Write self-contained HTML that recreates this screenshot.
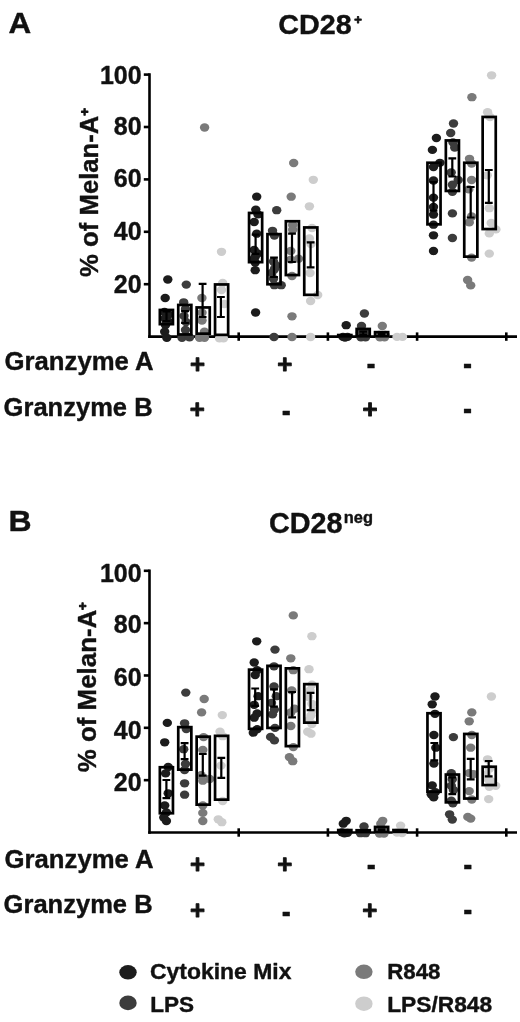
<!DOCTYPE html>
<html lang="en"><head><meta charset="utf-8"><title>Figure</title>
<style>html,body{margin:0;padding:0;background:#fff}body{width:520px;height:1022px;overflow:hidden}svg{display:block}text{stroke:#111;stroke-width:.4px;stroke-linejoin:round}.sp{stroke-width:.9px}</style>
</head><body>
<svg width="520" height="1022" viewBox="0 0 520 1022" font-family="'Liberation Sans', sans-serif" font-weight="bold" fill="#111">
<rect width="520" height="1022" fill="#fff"/>
<text x="8.4" y="33.1" font-size="30.4" text-anchor="start" textLength="22.7" lengthAdjust="spacingAndGlyphs">A</text>
<text x="8.5" y="531.2" font-size="30.4" text-anchor="start" textLength="23.1" lengthAdjust="spacingAndGlyphs">B</text>
<text x="278.3" y="34.2" font-size="28.3" text-anchor="start" textLength="73.4" lengthAdjust="spacingAndGlyphs">CD28</text>
<text x="354.2" y="23.9" font-size="13" text-anchor="start" class="sp">+</text>
<text x="269" y="533.1" font-size="28.6" text-anchor="start" textLength="73.6" lengthAdjust="spacingAndGlyphs">CD28</text>
<text x="343.8" y="523.3" font-size="16.5" text-anchor="start" textLength="29.2" lengthAdjust="spacingAndGlyphs">neg</text>
<g stroke="#000" stroke-width="2.6" fill="none" stroke-linecap="butt">
<path d="M149.5 73.3V337.9"/>
<path d="M148.2 336.6H517"/>
<path d="M143.8 284.2H149.5"/>
<path d="M143.8 231.8H149.5"/>
<path d="M143.8 179.4H149.5"/>
<path d="M143.8 127H149.5"/>
<path d="M143.8 74.6H149.5"/>
<path d="M238.7 332.4V340.8"/>
<path d="M327.9 332.4V340.8"/>
<path d="M417.1 332.4V340.8"/>
<path d="M506.3 332.4V340.8"/>
</g>
<g fill="#1c1c1c">
<ellipse cx="167.8" cy="279.5" rx="4.7" ry="4.15"/>
<ellipse cx="165.2" cy="298" rx="4.7" ry="4.15"/>
<ellipse cx="164.5" cy="312" rx="4.7" ry="4.15"/>
<ellipse cx="168.5" cy="314.5" rx="4.7" ry="4.15"/>
<ellipse cx="165" cy="318.5" rx="4.7" ry="4.15"/>
<ellipse cx="168" cy="321.5" rx="4.7" ry="4.15"/>
<ellipse cx="165.5" cy="325" rx="4.7" ry="4.15"/>
<ellipse cx="164.7" cy="331.7" rx="4.7" ry="4.15"/>
<ellipse cx="166.8" cy="337.8" rx="4.7" ry="4.15"/>
</g>
<g fill="#3c3c3c">
<ellipse cx="186.3" cy="284.6" rx="4.7" ry="4.15"/>
<ellipse cx="183.7" cy="302.3" rx="4.7" ry="4.15"/>
<ellipse cx="185.5" cy="309" rx="4.7" ry="4.15"/>
<ellipse cx="184" cy="316" rx="4.7" ry="4.15"/>
<ellipse cx="186" cy="322" rx="4.7" ry="4.15"/>
<ellipse cx="185.5" cy="330" rx="4.7" ry="4.15"/>
<ellipse cx="182" cy="337.8" rx="4.7" ry="4.15"/>
<ellipse cx="189.5" cy="337.4" rx="4.7" ry="4.15"/>
</g>
<g fill="#7a7a7a">
<ellipse cx="204.6" cy="127.5" rx="4.7" ry="4.15"/>
<ellipse cx="201.9" cy="298" rx="4.7" ry="4.15"/>
<ellipse cx="202" cy="312.7" rx="4.7" ry="4.15"/>
<ellipse cx="202" cy="320.5" rx="4.7" ry="4.15"/>
<ellipse cx="204.5" cy="331.7" rx="4.7" ry="4.15"/>
<ellipse cx="199.5" cy="337.8" rx="4.7" ry="4.15"/>
<ellipse cx="204.5" cy="337.8" rx="4.7" ry="4.15"/>
</g>
<g fill="#cdcdcd">
<ellipse cx="221.5" cy="251.8" rx="4.7" ry="4.15"/>
<ellipse cx="222.7" cy="283" rx="4.7" ry="4.15"/>
<ellipse cx="221.5" cy="290" rx="4.7" ry="4.15"/>
<ellipse cx="224.4" cy="304" rx="4.7" ry="4.15"/>
<ellipse cx="219.5" cy="338.4" rx="4.7" ry="4.15"/>
<ellipse cx="223.5" cy="338.4" rx="4.7" ry="4.15"/>
</g>
<g fill="#1c1c1c">
<ellipse cx="256.7" cy="196.7" rx="4.7" ry="4.15"/>
<ellipse cx="255.8" cy="209.6" rx="4.7" ry="4.15"/>
<ellipse cx="258" cy="214.4" rx="4.7" ry="4.15"/>
<ellipse cx="254.2" cy="222" rx="4.7" ry="4.15"/>
<ellipse cx="256.7" cy="233.7" rx="4.7" ry="4.15"/>
<ellipse cx="254.2" cy="250" rx="4.7" ry="4.15"/>
<ellipse cx="255.2" cy="256.7" rx="4.7" ry="4.15"/>
<ellipse cx="257.5" cy="253.5" rx="4.7" ry="4.15"/>
<ellipse cx="253.5" cy="259.5" rx="4.7" ry="4.15"/>
<ellipse cx="255.2" cy="262.5" rx="4.7" ry="4.15"/>
<ellipse cx="255.2" cy="270.2" rx="4.7" ry="4.15"/>
<ellipse cx="255.6" cy="312.5" rx="4.7" ry="4.15"/>
</g>
<g fill="#3c3c3c">
<ellipse cx="276.7" cy="210.2" rx="4.7" ry="4.15"/>
<ellipse cx="272.5" cy="230.8" rx="4.7" ry="4.15"/>
<ellipse cx="274.4" cy="235.6" rx="4.7" ry="4.15"/>
<ellipse cx="273.5" cy="261.5" rx="4.7" ry="4.15"/>
<ellipse cx="276" cy="265.5" rx="4.7" ry="4.15"/>
<ellipse cx="274.4" cy="269.2" rx="4.7" ry="4.15"/>
<ellipse cx="271.8" cy="273" rx="4.7" ry="4.15"/>
<ellipse cx="273.5" cy="278.8" rx="4.7" ry="4.15"/>
<ellipse cx="274.4" cy="285.2" rx="4.7" ry="4.15"/>
<ellipse cx="281.2" cy="285.2" rx="4.7" ry="4.15"/>
<ellipse cx="274" cy="337" rx="4.7" ry="4.15"/>
</g>
<g fill="#7a7a7a">
<ellipse cx="293.7" cy="163" rx="4.7" ry="4.15"/>
<ellipse cx="291.2" cy="196.7" rx="4.7" ry="4.15"/>
<ellipse cx="292.7" cy="225" rx="4.7" ry="4.15"/>
<ellipse cx="292.7" cy="229.8" rx="4.7" ry="4.15"/>
<ellipse cx="290.8" cy="251" rx="4.7" ry="4.15"/>
<ellipse cx="298.5" cy="258.7" rx="4.7" ry="4.15"/>
<ellipse cx="290.8" cy="259.6" rx="4.7" ry="4.15"/>
<ellipse cx="292" cy="276" rx="4.7" ry="4.15"/>
<ellipse cx="292" cy="316.3" rx="4.7" ry="4.15"/>
<ellipse cx="292" cy="337" rx="4.7" ry="4.15"/>
</g>
<g fill="#cdcdcd">
<ellipse cx="313.3" cy="179.8" rx="4.7" ry="4.15"/>
<ellipse cx="309.4" cy="206.3" rx="4.7" ry="4.15"/>
<ellipse cx="312" cy="228" rx="4.7" ry="4.15"/>
<ellipse cx="309.4" cy="238.5" rx="4.7" ry="4.15"/>
<ellipse cx="311" cy="244" rx="4.7" ry="4.15"/>
<ellipse cx="310" cy="273" rx="4.7" ry="4.15"/>
<ellipse cx="317.7" cy="295" rx="4.7" ry="4.15"/>
<ellipse cx="310.6" cy="301" rx="4.7" ry="4.15"/>
<ellipse cx="310.6" cy="337" rx="4.7" ry="4.15"/>
</g>
<g fill="#1c1c1c">
<ellipse cx="346.2" cy="325.2" rx="4.7" ry="4.15"/>
<ellipse cx="343" cy="336.9" rx="4.7" ry="4.15"/>
<ellipse cx="347.5" cy="336.9" rx="4.7" ry="4.15"/>
<ellipse cx="345" cy="337.5" rx="4.7" ry="4.15"/>
</g>
<g fill="#3c3c3c">
<ellipse cx="364.4" cy="313.5" rx="4.7" ry="4.15"/>
<ellipse cx="361.5" cy="326" rx="4.7" ry="4.15"/>
<ellipse cx="361" cy="337.4" rx="4.7" ry="4.15"/>
<ellipse cx="365.5" cy="337.4" rx="4.7" ry="4.15"/>
<ellipse cx="360.5" cy="332.5" rx="4.7" ry="4.15"/>
<ellipse cx="366" cy="332.5" rx="4.7" ry="4.15"/>
<ellipse cx="363" cy="335" rx="4.7" ry="4.15"/>
</g>
<g fill="#7a7a7a">
<ellipse cx="382.3" cy="326" rx="4.7" ry="4.15"/>
<ellipse cx="380" cy="337.4" rx="4.7" ry="4.15"/>
<ellipse cx="384.5" cy="337.4" rx="4.7" ry="4.15"/>
<ellipse cx="379" cy="335" rx="4.7" ry="4.15"/>
<ellipse cx="385" cy="335" rx="4.7" ry="4.15"/>
<ellipse cx="382" cy="336" rx="4.7" ry="4.15"/>
</g>
<g fill="#cdcdcd">
<ellipse cx="397" cy="336.9" rx="4.7" ry="4.15"/>
<ellipse cx="402.5" cy="336.9" rx="4.7" ry="4.15"/>
</g>
<g fill="#1c1c1c">
<ellipse cx="436.4" cy="138" rx="4.7" ry="4.15"/>
<ellipse cx="432.4" cy="149.9" rx="4.7" ry="4.15"/>
<ellipse cx="439.9" cy="162.8" rx="4.7" ry="4.15"/>
<ellipse cx="433.5" cy="167" rx="4.7" ry="4.15"/>
<ellipse cx="433.5" cy="180.5" rx="4.7" ry="4.15"/>
<ellipse cx="433.5" cy="197.6" rx="4.7" ry="4.15"/>
<ellipse cx="433.5" cy="207" rx="4.7" ry="4.15"/>
<ellipse cx="433.5" cy="214.6" rx="4.7" ry="4.15"/>
<ellipse cx="433.5" cy="224.7" rx="4.7" ry="4.15"/>
<ellipse cx="433.5" cy="235.3" rx="4.7" ry="4.15"/>
<ellipse cx="433.5" cy="251" rx="4.7" ry="4.15"/>
</g>
<g fill="#3c3c3c">
<ellipse cx="453.5" cy="123.5" rx="4.7" ry="4.15"/>
<ellipse cx="450.7" cy="133" rx="4.7" ry="4.15"/>
<ellipse cx="453" cy="142.4" rx="4.7" ry="4.15"/>
<ellipse cx="454.7" cy="147.5" rx="4.7" ry="4.15"/>
<ellipse cx="451.2" cy="172.5" rx="4.7" ry="4.15"/>
<ellipse cx="458.2" cy="180" rx="4.7" ry="4.15"/>
<ellipse cx="452.4" cy="184.7" rx="4.7" ry="4.15"/>
<ellipse cx="452.4" cy="191.8" rx="4.7" ry="4.15"/>
<ellipse cx="452.4" cy="213.4" rx="4.7" ry="4.15"/>
<ellipse cx="452.4" cy="238" rx="4.7" ry="4.15"/>
</g>
<g fill="#7a7a7a">
<ellipse cx="471.9" cy="97.2" rx="4.7" ry="4.15"/>
<ellipse cx="469.5" cy="158.8" rx="4.7" ry="4.15"/>
<ellipse cx="471.6" cy="163.5" rx="4.7" ry="4.15"/>
<ellipse cx="471.6" cy="180" rx="4.7" ry="4.15"/>
<ellipse cx="468.8" cy="189.4" rx="4.7" ry="4.15"/>
<ellipse cx="471.6" cy="216.5" rx="4.7" ry="4.15"/>
<ellipse cx="469.3" cy="222.4" rx="4.7" ry="4.15"/>
<ellipse cx="471.6" cy="257.6" rx="4.7" ry="4.15"/>
<ellipse cx="467.6" cy="280" rx="4.7" ry="4.15"/>
<ellipse cx="470.7" cy="285.4" rx="4.7" ry="4.15"/>
</g>
<g fill="#cdcdcd">
<ellipse cx="491.6" cy="75.3" rx="4.7" ry="4.15"/>
<ellipse cx="487.6" cy="112.2" rx="4.7" ry="4.15"/>
<ellipse cx="490" cy="117" rx="4.7" ry="4.15"/>
<ellipse cx="487.2" cy="175.3" rx="4.7" ry="4.15"/>
<ellipse cx="489.3" cy="208.2" rx="4.7" ry="4.15"/>
<ellipse cx="491.2" cy="223" rx="4.7" ry="4.15"/>
<ellipse cx="495.9" cy="229.4" rx="4.7" ry="4.15"/>
<ellipse cx="489.3" cy="233.4" rx="4.7" ry="4.15"/>
<ellipse cx="489.3" cy="253.6" rx="4.7" ry="4.15"/>
</g>
<g stroke="#000" fill="none">
<rect x="159.85" y="309.95" width="13.1" height="14.2" stroke-width="2.7"/>
<path stroke-width="2.2" d="M166.5 311.5V321M162.6 311.5H170.4M162.6 321H170.4"/>
<rect x="178.25" y="304.95" width="13.1" height="29.5" stroke-width="2.7"/>
<path stroke-width="2.2" d="M185 311V323M181.1 311H188.9M181.1 323H188.9"/>
<rect x="196.65" y="307.45" width="13.1" height="26.2" stroke-width="2.7"/>
<path stroke-width="2.2" d="M202.6 283.8V317M198.7 283.8H206.5M198.7 317H206.5"/>
<rect x="215.05" y="284.45" width="13.1" height="50.4" stroke-width="2.7"/>
<path stroke-width="2.2" d="M220.9 297V317M217 297H224.8M217 317H224.8"/>
<rect x="249.05" y="212.95" width="13.1" height="49.2" stroke-width="2.7"/>
<path stroke-width="2.2" d="M255.6 234.6V253.8M251.7 234.6H259.5M251.7 253.8H259.5"/>
<rect x="267.45" y="234.15" width="13.1" height="50.1" stroke-width="2.7"/>
<path stroke-width="2.2" d="M274 257.7V277M270.1 257.7H277.9M270.1 277H277.9"/>
<rect x="285.85" y="221.25" width="13.1" height="53.8" stroke-width="2.7"/>
<path stroke-width="2.2" d="M292 233.7V262M288.1 233.7H295.9M288.1 262H295.9"/>
<rect x="304.25" y="227.45" width="13.1" height="67.4" stroke-width="2.7"/>
<path stroke-width="2.2" d="M310.6 242.3V267.3M306.7 242.3H314.5M306.7 267.3H314.5"/>
<rect x="338.25" y="335.05" width="13.1" height="1.2" stroke-width="2.7"/>
<rect x="356.65" y="328.95" width="13.1" height="7.3" stroke-width="2.7"/>
<path stroke-width="2.2" d="M363.2 331.6V334.6M359.3 331.6H367.1M359.3 334.6H367.1"/>
<rect x="375.05" y="332.15" width="13.1" height="4.1" stroke-width="2.7"/>
<path stroke-width="2.2" d="M381.6 334V335.4M377.7 334H385.5M377.7 335.4H385.5"/>
<rect x="427.45" y="162.75" width="13.1" height="61.6" stroke-width="2.7"/>
<path stroke-width="2.2" d="M433.5 182V210.6M429.6 182H437.4M429.6 210.6H437.4"/>
<rect x="445.85" y="140.45" width="13.1" height="50.5" stroke-width="2.7"/>
<path stroke-width="2.2" d="M452.3 158.4V176.5M448.4 158.4H456.2M448.4 176.5H456.2"/>
<rect x="464.25" y="162.75" width="13.1" height="93.9" stroke-width="2.7"/>
<path stroke-width="2.2" d="M470.7 187V217.5M466.8 187H474.6M466.8 217.5H474.6"/>
<rect x="482.65" y="116.95" width="13.1" height="112.1" stroke-width="2.7"/>
<path stroke-width="2.2" d="M488.8 170V202.8M484.9 170H492.7M484.9 202.8H492.7"/>
</g>
<text x="113.8" y="293.4" font-size="26" text-anchor="start" textLength="27.8" lengthAdjust="spacingAndGlyphs">20</text>
<text x="113.8" y="240.4" font-size="26" text-anchor="start" textLength="27.8" lengthAdjust="spacingAndGlyphs">40</text>
<text x="113.8" y="187.1" font-size="26" text-anchor="start" textLength="27.8" lengthAdjust="spacingAndGlyphs">60</text>
<text x="113.8" y="135" font-size="26" text-anchor="start" textLength="27.8" lengthAdjust="spacingAndGlyphs">80</text>
<text x="99.9" y="84.4" font-size="26" text-anchor="start" textLength="41.7" lengthAdjust="spacingAndGlyphs">100</text>
<g transform="translate(98.3 276.9) rotate(-90)">
<text x="0" y="0" font-size="26.6" textLength="161.3" lengthAdjust="spacingAndGlyphs">% of Melan-A</text>
<text x="161.1" y="-8.9" font-size="13.5" class="sp">+</text>
</g>
<text x="4.6" y="370.2" font-size="25.8" text-anchor="start" textLength="149" lengthAdjust="spacingAndGlyphs">Granzyme A</text>
<text x="3.6" y="415.6" font-size="25.8" text-anchor="start" textLength="149" lengthAdjust="spacingAndGlyphs">Granzyme B</text>
<text x="197.5" y="372.8" font-size="25.8" text-anchor="middle" class="sp">+</text>
<text x="284.9" y="372.6" font-size="25.8" text-anchor="middle" class="sp">+</text>
<text x="197.2" y="417.8" font-size="25.8" text-anchor="middle" class="sp">+</text>
<text x="370" y="417.6" font-size="25.8" text-anchor="middle" class="sp">+</text>
<text transform="translate(371.1 375.3) scale(0.8 1)" font-size="34" text-anchor="middle">-</text>
<text transform="translate(467.6 375.3) scale(0.8 1)" font-size="34" text-anchor="middle">-</text>
<text transform="translate(286.2 422.3) scale(0.8 1)" font-size="34" text-anchor="middle">-</text>
<text transform="translate(467.6 420.3) scale(0.8 1)" font-size="34" text-anchor="middle">-</text>
<g stroke="#000" stroke-width="2.6" fill="none" stroke-linecap="butt">
<path d="M149.5 569.5V833.8"/>
<path d="M148.2 832.5H517"/>
<path d="M143.8 780.16H149.5"/>
<path d="M143.8 727.82H149.5"/>
<path d="M143.8 675.48H149.5"/>
<path d="M143.8 623.14H149.5"/>
<path d="M143.8 570.8H149.5"/>
<path d="M238.7 828.3V836.7"/>
<path d="M327.9 828.3V836.7"/>
<path d="M417.1 828.3V836.7"/>
<path d="M506.3 828.3V836.7"/>
</g>
<g fill="#1c1c1c">
<ellipse cx="167.3" cy="722.9" rx="4.7" ry="4.15"/>
<ellipse cx="164.7" cy="742.3" rx="4.7" ry="4.15"/>
<ellipse cx="168.2" cy="767" rx="4.7" ry="4.15"/>
<ellipse cx="165.6" cy="773.4" rx="4.7" ry="4.15"/>
<ellipse cx="168.2" cy="793.3" rx="4.7" ry="4.15"/>
<ellipse cx="164.7" cy="805.4" rx="4.7" ry="4.15"/>
<ellipse cx="166.4" cy="812.4" rx="4.7" ry="4.15"/>
<ellipse cx="163.8" cy="817.5" rx="4.7" ry="4.15"/>
<ellipse cx="166.4" cy="821" rx="4.7" ry="4.15"/>
</g>
<g fill="#3c3c3c">
<ellipse cx="185.8" cy="692.6" rx="4.7" ry="4.15"/>
<ellipse cx="184.6" cy="723.3" rx="4.7" ry="4.15"/>
<ellipse cx="186.3" cy="729" rx="4.7" ry="4.15"/>
<ellipse cx="183.7" cy="749.2" rx="4.7" ry="4.15"/>
<ellipse cx="185.5" cy="764" rx="4.7" ry="4.15"/>
<ellipse cx="184.6" cy="770" rx="4.7" ry="4.15"/>
<ellipse cx="184.6" cy="783.3" rx="4.7" ry="4.15"/>
<ellipse cx="184.6" cy="794.7" rx="4.7" ry="4.15"/>
</g>
<g fill="#7a7a7a">
<ellipse cx="204.2" cy="699" rx="4.7" ry="4.15"/>
<ellipse cx="201.6" cy="712.4" rx="4.7" ry="4.15"/>
<ellipse cx="203.6" cy="737.1" rx="4.7" ry="4.15"/>
<ellipse cx="202.8" cy="750" rx="4.7" ry="4.15"/>
<ellipse cx="201" cy="775.2" rx="4.7" ry="4.15"/>
<ellipse cx="209.7" cy="779" rx="4.7" ry="4.15"/>
<ellipse cx="202.8" cy="780.7" rx="4.7" ry="4.15"/>
<ellipse cx="202.8" cy="805.4" rx="4.7" ry="4.15"/>
<ellipse cx="202.8" cy="812.9" rx="4.7" ry="4.15"/>
<ellipse cx="202.8" cy="821" rx="4.7" ry="4.15"/>
</g>
<g fill="#cdcdcd">
<ellipse cx="222.3" cy="715.1" rx="4.7" ry="4.15"/>
<ellipse cx="220" cy="731.6" rx="4.7" ry="4.15"/>
<ellipse cx="222.7" cy="736.2" rx="4.7" ry="4.15"/>
<ellipse cx="221" cy="765.6" rx="4.7" ry="4.15"/>
<ellipse cx="222.7" cy="801" rx="4.7" ry="4.15"/>
<ellipse cx="218.3" cy="819.3" rx="4.7" ry="4.15"/>
<ellipse cx="221.8" cy="822.2" rx="4.7" ry="4.15"/>
</g>
<g fill="#1c1c1c">
<ellipse cx="256.7" cy="641.3" rx="4.7" ry="4.15"/>
<ellipse cx="254.2" cy="662.5" rx="4.7" ry="4.15"/>
<ellipse cx="257.1" cy="670.2" rx="4.7" ry="4.15"/>
<ellipse cx="255.2" cy="675" rx="4.7" ry="4.15"/>
<ellipse cx="258.1" cy="696.2" rx="4.7" ry="4.15"/>
<ellipse cx="254.2" cy="704.8" rx="4.7" ry="4.15"/>
<ellipse cx="257.1" cy="713.5" rx="4.7" ry="4.15"/>
<ellipse cx="254.2" cy="717.7" rx="4.7" ry="4.15"/>
<ellipse cx="257.1" cy="729.2" rx="4.7" ry="4.15"/>
<ellipse cx="253.3" cy="732.7" rx="4.7" ry="4.15"/>
</g>
<g fill="#3c3c3c">
<ellipse cx="275" cy="649.6" rx="4.7" ry="4.15"/>
<ellipse cx="274" cy="666.3" rx="4.7" ry="4.15"/>
<ellipse cx="274" cy="686.5" rx="4.7" ry="4.15"/>
<ellipse cx="276.3" cy="696.2" rx="4.7" ry="4.15"/>
<ellipse cx="271.5" cy="702.9" rx="4.7" ry="4.15"/>
<ellipse cx="274.4" cy="709.6" rx="4.7" ry="4.15"/>
<ellipse cx="272.5" cy="714.4" rx="4.7" ry="4.15"/>
<ellipse cx="275" cy="727.9" rx="4.7" ry="4.15"/>
<ellipse cx="270.6" cy="736.9" rx="4.7" ry="4.15"/>
<ellipse cx="274.4" cy="740.4" rx="4.7" ry="4.15"/>
</g>
<g fill="#7a7a7a">
<ellipse cx="293.3" cy="615.4" rx="4.7" ry="4.15"/>
<ellipse cx="290.8" cy="658.3" rx="4.7" ry="4.15"/>
<ellipse cx="293.3" cy="670.2" rx="4.7" ry="4.15"/>
<ellipse cx="291.7" cy="690.4" rx="4.7" ry="4.15"/>
<ellipse cx="294.6" cy="708.7" rx="4.7" ry="4.15"/>
<ellipse cx="290.8" cy="712.5" rx="4.7" ry="4.15"/>
<ellipse cx="290.8" cy="726" rx="4.7" ry="4.15"/>
<ellipse cx="293.3" cy="747.1" rx="4.7" ry="4.15"/>
<ellipse cx="289.4" cy="757.1" rx="4.7" ry="4.15"/>
<ellipse cx="292.7" cy="761.2" rx="4.7" ry="4.15"/>
</g>
<g fill="#cdcdcd">
<ellipse cx="311.9" cy="636.2" rx="4.7" ry="4.15"/>
<ellipse cx="309" cy="669.2" rx="4.7" ry="4.15"/>
<ellipse cx="311.9" cy="684.6" rx="4.7" ry="4.15"/>
<ellipse cx="310" cy="690.4" rx="4.7" ry="4.15"/>
<ellipse cx="308.5" cy="697" rx="4.7" ry="4.15"/>
<ellipse cx="311.9" cy="703.8" rx="4.7" ry="4.15"/>
<ellipse cx="313" cy="710" rx="4.7" ry="4.15"/>
<ellipse cx="311" cy="715.4" rx="4.7" ry="4.15"/>
<ellipse cx="309" cy="720" rx="4.7" ry="4.15"/>
<ellipse cx="311.9" cy="724" rx="4.7" ry="4.15"/>
<ellipse cx="307.7" cy="731.7" rx="4.7" ry="4.15"/>
<ellipse cx="311" cy="733.7" rx="4.7" ry="4.15"/>
</g>
<g fill="#1c1c1c">
<ellipse cx="346.2" cy="820.8" rx="4.7" ry="4.15"/>
<ellipse cx="343.3" cy="823.7" rx="4.7" ry="4.15"/>
<ellipse cx="342" cy="832.3" rx="4.7" ry="4.15"/>
<ellipse cx="347.5" cy="832.8" rx="4.7" ry="4.15"/>
<ellipse cx="344.5" cy="833.4" rx="4.7" ry="4.15"/>
</g>
<g fill="#3c3c3c">
<ellipse cx="364" cy="826.5" rx="4.7" ry="4.15"/>
<ellipse cx="360.5" cy="833.2" rx="4.7" ry="4.15"/>
<ellipse cx="365.5" cy="833.2" rx="4.7" ry="4.15"/>
</g>
<g fill="#7a7a7a">
<ellipse cx="382.7" cy="820.8" rx="4.7" ry="4.15"/>
<ellipse cx="380.8" cy="823.7" rx="4.7" ry="4.15"/>
<ellipse cx="379.5" cy="833.6" rx="4.7" ry="4.15"/>
<ellipse cx="384" cy="833.6" rx="4.7" ry="4.15"/>
<ellipse cx="380" cy="830" rx="4.7" ry="4.15"/>
<ellipse cx="384.5" cy="830.5" rx="4.7" ry="4.15"/>
</g>
<g fill="#cdcdcd">
<ellipse cx="400.6" cy="825.6" rx="4.7" ry="4.15"/>
<ellipse cx="397" cy="832.6" rx="4.7" ry="4.15"/>
<ellipse cx="402" cy="833" rx="4.7" ry="4.15"/>
</g>
<g fill="#1c1c1c">
<ellipse cx="435" cy="696.5" rx="4.7" ry="4.15"/>
<ellipse cx="432.2" cy="704.3" rx="4.7" ry="4.15"/>
<ellipse cx="435" cy="713.8" rx="4.7" ry="4.15"/>
<ellipse cx="433.9" cy="735" rx="4.7" ry="4.15"/>
<ellipse cx="435.8" cy="747.7" rx="4.7" ry="4.15"/>
<ellipse cx="433.9" cy="763.6" rx="4.7" ry="4.15"/>
<ellipse cx="432.2" cy="785.4" rx="4.7" ry="4.15"/>
<ellipse cx="435.4" cy="792.1" rx="4.7" ry="4.15"/>
<ellipse cx="431.2" cy="794.2" rx="4.7" ry="4.15"/>
<ellipse cx="433.7" cy="797.4" rx="4.7" ry="4.15"/>
</g>
<g fill="#3c3c3c">
<ellipse cx="453.4" cy="737.1" rx="4.7" ry="4.15"/>
<ellipse cx="451.3" cy="773.1" rx="4.7" ry="4.15"/>
<ellipse cx="452.3" cy="779.4" rx="4.7" ry="4.15"/>
<ellipse cx="451.3" cy="785.8" rx="4.7" ry="4.15"/>
<ellipse cx="453.4" cy="790" rx="4.7" ry="4.15"/>
<ellipse cx="451.3" cy="800.6" rx="4.7" ry="4.15"/>
<ellipse cx="452.9" cy="803.3" rx="4.7" ry="4.15"/>
<ellipse cx="449.6" cy="814.3" rx="4.7" ry="4.15"/>
<ellipse cx="452.3" cy="819.6" rx="4.7" ry="4.15"/>
</g>
<g fill="#7a7a7a">
<ellipse cx="471.8" cy="712.4" rx="4.7" ry="4.15"/>
<ellipse cx="469.2" cy="721.3" rx="4.7" ry="4.15"/>
<ellipse cx="471.8" cy="735" rx="4.7" ry="4.15"/>
<ellipse cx="470.7" cy="747.7" rx="4.7" ry="4.15"/>
<ellipse cx="469.2" cy="773.1" rx="4.7" ry="4.15"/>
<ellipse cx="473.5" cy="774.1" rx="4.7" ry="4.15"/>
<ellipse cx="469.2" cy="791.1" rx="4.7" ry="4.15"/>
<ellipse cx="471.8" cy="799.5" rx="4.7" ry="4.15"/>
<ellipse cx="467.8" cy="816.9" rx="4.7" ry="4.15"/>
<ellipse cx="470.7" cy="818.6" rx="4.7" ry="4.15"/>
</g>
<g fill="#cdcdcd">
<ellipse cx="491.4" cy="696.5" rx="4.7" ry="4.15"/>
<ellipse cx="487.6" cy="759.3" rx="4.7" ry="4.15"/>
<ellipse cx="489.3" cy="768.9" rx="4.7" ry="4.15"/>
<ellipse cx="486.5" cy="774.5" rx="4.7" ry="4.15"/>
<ellipse cx="488.3" cy="779.4" rx="4.7" ry="4.15"/>
<ellipse cx="491.5" cy="781.5" rx="4.7" ry="4.15"/>
<ellipse cx="495.7" cy="785.8" rx="4.7" ry="4.15"/>
<ellipse cx="489.3" cy="786.8" rx="4.7" ry="4.15"/>
<ellipse cx="488.7" cy="799.1" rx="4.7" ry="4.15"/>
</g>
<g stroke="#000" fill="none">
<rect x="159.85" y="767.25" width="13.1" height="46" stroke-width="2.7"/>
<path stroke-width="2.2" d="M166.4 780V798.2M162.5 780H170.3M162.5 798.2H170.3"/>
<rect x="178.25" y="727.15" width="13.1" height="42.5" stroke-width="2.7"/>
<path stroke-width="2.2" d="M184.6 743.2V759.2M180.7 743.2H188.5M180.7 759.2H188.5"/>
<rect x="196.65" y="736.65" width="13.1" height="68" stroke-width="2.7"/>
<path stroke-width="2.2" d="M202.8 754V775.7M198.9 754H206.7M198.9 775.7H206.7"/>
<rect x="215.05" y="735.85" width="13.1" height="63.8" stroke-width="2.7"/>
<path stroke-width="2.2" d="M221.3 757.9V777.8M217.4 757.9H225.2M217.4 777.8H225.2"/>
<rect x="249.05" y="669.65" width="13.1" height="59.2" stroke-width="2.7"/>
<path stroke-width="2.2" d="M255.2 688.5V705.8M251.3 688.5H259.1M251.3 705.8H259.1"/>
<rect x="267.45" y="665.85" width="13.1" height="62.1" stroke-width="2.7"/>
<path stroke-width="2.2" d="M274 689.4V706.7M270.1 689.4H277.9M270.1 706.7H277.9"/>
<rect x="285.85" y="668.35" width="13.1" height="77.8" stroke-width="2.7"/>
<path stroke-width="2.2" d="M292.1 692V717.3M288.2 692H296M288.2 717.3H296"/>
<rect x="304.25" y="684.15" width="13.1" height="38.5" stroke-width="2.7"/>
<path stroke-width="2.2" d="M310.6 692.9V710.2M306.7 692.9H314.5M306.7 710.2H314.5"/>
<rect x="338.25" y="830.05" width="13.1" height="2" stroke-width="2.7"/>
<rect x="356.65" y="830.25" width="13.1" height="1.8" stroke-width="2.7"/>
<rect x="375.05" y="826.95" width="13.1" height="5.1" stroke-width="2.7"/>
<path stroke-width="2.2" d="M381.6 829.3V831.3M377.7 829.3H385.5M377.7 831.3H385.5"/>
<rect x="393.45" y="830.05" width="13.1" height="1.8" stroke-width="2.7"/>
<rect x="427.45" y="713.25" width="13.1" height="78.5" stroke-width="2.7"/>
<path stroke-width="2.2" d="M434.3 743V760.4M430.4 743H438.2M430.4 760.4H438.2"/>
<rect x="445.85" y="774.55" width="13.1" height="27.8" stroke-width="2.7"/>
<path stroke-width="2.2" d="M452.3 777.3V794.2M448.4 777.3H456.2M448.4 794.2H456.2"/>
<rect x="464.25" y="733.95" width="13.1" height="64.6" stroke-width="2.7"/>
<path stroke-width="2.2" d="M470.7 758.9V779.4M466.8 758.9H474.6M466.8 779.4H474.6"/>
<rect x="482.65" y="766.75" width="13.1" height="18.3" stroke-width="2.7"/>
<path stroke-width="2.2" d="M488.7 761V776.3M484.8 761H492.6M484.8 776.3H492.6"/>
</g>
<text x="113.8" y="791.16" font-size="26" text-anchor="start" textLength="27.8" lengthAdjust="spacingAndGlyphs">20</text>
<text x="113.8" y="738.62" font-size="26" text-anchor="start" textLength="27.8" lengthAdjust="spacingAndGlyphs">40</text>
<text x="113.8" y="685.68" font-size="26" text-anchor="start" textLength="27.8" lengthAdjust="spacingAndGlyphs">60</text>
<text x="113.8" y="632.54" font-size="26" text-anchor="start" textLength="27.8" lengthAdjust="spacingAndGlyphs">80</text>
<text x="99.9" y="582.2" font-size="26" text-anchor="start" textLength="41.7" lengthAdjust="spacingAndGlyphs">100</text>
<g transform="translate(96.1 772.3) rotate(-90)">
<text x="0" y="0" font-size="26.6" textLength="162.6" lengthAdjust="spacingAndGlyphs">% of Melan-A</text>
<text x="162.4" y="-8.9" font-size="13.5" class="sp">+</text>
</g>
<text x="4.6" y="868" font-size="25.8" text-anchor="start" textLength="149" lengthAdjust="spacingAndGlyphs">Granzyme A</text>
<text x="3.6" y="912.6" font-size="25.8" text-anchor="start" textLength="149" lengthAdjust="spacingAndGlyphs">Granzyme B</text>
<text x="197.5" y="873.1" font-size="25.8" text-anchor="middle" class="sp">+</text>
<text x="284.9" y="873.1" font-size="25.8" text-anchor="middle" class="sp">+</text>
<text x="197.5" y="918.6" font-size="25.8" text-anchor="middle" class="sp">+</text>
<text x="369.9" y="918.6" font-size="25.8" text-anchor="middle" class="sp">+</text>
<text transform="translate(371.2 875.6) scale(0.8 1)" font-size="34" text-anchor="middle">-</text>
<text transform="translate(467.8 875.6) scale(0.8 1)" font-size="34" text-anchor="middle">-</text>
<text transform="translate(286.2 922.9) scale(0.8 1)" font-size="34" text-anchor="middle">-</text>
<text transform="translate(467.8 920.7) scale(0.8 1)" font-size="34" text-anchor="middle">-</text>
<ellipse cx="128.0" cy="972.3" rx="8.7" ry="7.3" fill="#1c1c1c"/>
<text x="150" y="979" font-size="22.2" text-anchor="start" textLength="141.5" lengthAdjust="spacingAndGlyphs">Cytokine Mix</text>
<ellipse cx="128.0" cy="1002.9" rx="8.7" ry="7.3" fill="#3c3c3c"/>
<text x="150.3" y="1011.9" font-size="22.2" text-anchor="start" textLength="43.8" lengthAdjust="spacingAndGlyphs">LPS</text>
<ellipse cx="363.9" cy="971.8" rx="8.7" ry="7.3" fill="#7a7a7a"/>
<text x="387.2" y="978.9" font-size="22.2" text-anchor="start" textLength="53.2" lengthAdjust="spacingAndGlyphs">R848</text>
<ellipse cx="363.9" cy="1003.7" rx="8.7" ry="7.3" fill="#cdcdcd"/>
<text x="387.2" y="1012.2" font-size="22.2" text-anchor="start" textLength="105" lengthAdjust="spacingAndGlyphs">LPS/R848</text>
</svg>
</body></html>
